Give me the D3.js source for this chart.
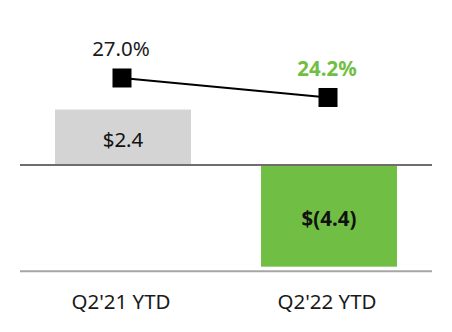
<!DOCTYPE html>
<html>
<head>
<meta charset="utf-8">
<script src="https://cdn.jsdelivr.net/npm/d3@7"></script>
<style>
  html, body { margin: 0; padding: 0; background: #fff; }
  svg { display: block; font-family: "Noto Sans", "Open Sans", sans-serif; }
</style>
</head>
<body>
<svg id="chart" width="452" height="332"></svg>
<script>
// Periods shown on the x axis
const categories = ["Q2'21 YTD", "Q2'22 YTD"];
// Bar values ($) and their labels
const barValues = [2.4, -4.4];
const barLabels = ["$2.4", "$(4.4)"];
// Rate line values (%) and their labels
const rateValues = [27.0, 24.2];
const rateLabels = ["27.0%", "24.2%"];

const GREEN = "#70bf44";
const barColors = ["#d4d4d4", GREEN];
const barLabelWeights = ["normal", "bold"];
const rateLabelColors = ["#1a1a1a", GREEN];
const rateLabelWeights = ["normal", "bold"];
const FS = 20.5;

const svg = d3.select("#chart");

const x = d3.scaleBand()
  .domain(categories)
  .range([20, 432])
  .paddingInner(0.34)
  .paddingOuter(0.17);

const yBar = d3.scaleLinear().domain([-4.6, 4.6]).range([271.3, 58.7]);
const yRate = d3.scaleLinear().domain([0, 30]).range([266, 57.1]);

// Bars
svg.append("g").selectAll("rect")
  .data(barValues)
  .join("rect")
  .attr("x", (d, i) => x(categories[i]))
  .attr("width", x.bandwidth())
  .attr("y", d => yBar(Math.max(0, d)))
  .attr("height", d => Math.abs(yBar(d) - yBar(0)))
  .attr("fill", (d, i) => barColors[i]);

// Bar value labels, centred inside each bar
svg.append("g").selectAll("text")
  .data(barValues)
  .join("text")
  .attr("x", (d, i) => x(categories[i]) + x.bandwidth() / 2)
  .attr("y", d => (yBar(d) + yBar(0)) / 2 + 10)
  .attr("text-anchor", "middle")
  .attr("font-size", FS)
  .attr("font-weight", (d, i) => barLabelWeights[i])
  .attr("fill", "#111")
  .text((d, i) => barLabels[i]);

// Zero line and bottom axis line
svg.append("line")
  .attr("x1", 20).attr("x2", 432)
  .attr("y1", yBar(0)).attr("y2", yBar(0))
  .attr("stroke", "#6e6e6e").attr("stroke-width", 2);
svg.append("line")
  .attr("x1", 20).attr("x2", 432)
  .attr("y1", yBar(-4.6)).attr("y2", yBar(-4.6))
  .attr("stroke", "#a6a6a6").attr("stroke-width", 2);

// Category labels
const xAxis = svg.append("g")
  .attr("transform", `translate(0,${yBar(-4.6)})`)
  .call(d3.axisBottom(x).tickSize(0).tickPadding(23));
xAxis.select(".domain").remove();
xAxis.selectAll("text")
  .attr("font-size", FS)
  .attr("font-family", "\"Noto Sans\", sans-serif")
  .attr("fill", "#1a1a1a")
  .attr("dx", -2);

// Rate line with square markers
const cx = (i) => x(categories[i]) + x.bandwidth() / 2 - 1;
const line = d3.line()
  .x((d, i) => cx(i))
  .y(d => yRate(d));
svg.append("path")
  .datum(rateValues)
  .attr("d", line)
  .attr("fill", "none")
  .attr("stroke", "#000")
  .attr("stroke-width", 2);

const ms = 19;
svg.append("g").selectAll("rect")
  .data(rateValues)
  .join("rect")
  .attr("x", (d, i) => cx(i) - ms / 2)
  .attr("y", d => yRate(d) - ms / 2)
  .attr("width", ms)
  .attr("height", ms)
  .attr("fill", "#000");

// Rate labels above each marker
svg.append("g").selectAll("text")
  .data(rateValues)
  .join("text")
  .attr("x", (d, i) => cx(i) - 1)
  .attr("y", d => yRate(d) - 21.5)
  .attr("text-anchor", "middle")
  .attr("font-size", FS)
  .attr("font-weight", (d, i) => rateLabelWeights[i])
  .attr("fill", (d, i) => rateLabelColors[i])
  .text((d, i) => rateLabels[i]);
</script>
</body>
</html>
